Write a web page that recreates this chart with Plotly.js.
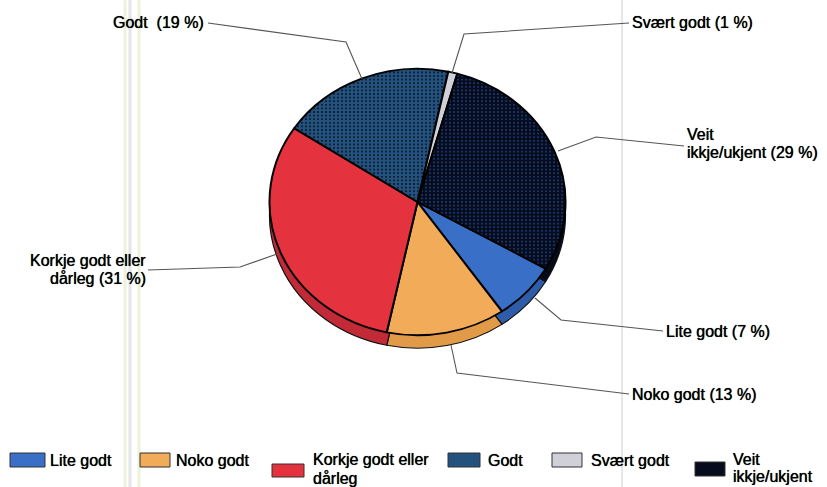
<!DOCTYPE html>
<html><head><meta charset="utf-8">
<script src="https://cdn.plot.ly/plotly-3.0.1.min.js"></script>
<style>html,body{margin:0;padding:0;background:#fff}#c{width:827px;height:487px}</style>
</head><body><div id="c"></div>
<script>
const W = 827, H = 487;
const categories = ['Lite godt','Noko godt','Korkje godt eller dårleg','Godt','Svært godt','Veit ikkje/ukjent'];
const values = [7,13,31,19,1,29];
const colors = ['#3a6fc8','#f2ab58','#e5323f','#23527f','#cfd0d8','#060c1e'];
const sideColors = ['#2f5ca8','#e09a48','#c22a38','#173b62','#a8a8b0','#050a18'];
const dotColors = ['#3a6fc8','#f2ab58','#e5323f','#07101f','#cfd0d8','#1d3f78'];
const dotShapes = ['','','','.','','.'];
// [text, x, y, anchor] – one entry per text line
const labelLines = [
 ['Lite godt (7 %)',665,331,'left'],
 ['Noko godt (13 %)',631,394,'left'],
 ['Korkje godt eller',147,260,'right'],
 ['dårleg (31 %)',147,278,'right'],
 ['Godt  (19 %)',205,23,'right'],
 ['Svært godt (1 %)',631,23,'left'],
 ['Veit',686,135,'left'],
 ['ikkje/ukjent (29 %)',686,153,'left']
];
const leaders = [
 [[535,298],[561,320],[663,331]],
 [[451,345],[457,373],[629,394]],
 [[148,270],[240,267],[277,254]],
 [[208,23],[346,42],[362,79]],
 [[629,23],[464,34],[452,73]],
 [[558,151],[596,137],[684,146]]
];
const legendLines = [
 ['Lite godt',49,460],['Noko godt',175,460],
 ['Korkje godt eller',312,459],['dårleg',312,478],
 ['Godt',487,460],['Svært godt',590,460],
 ['Veit',732,459],['ikkje/ukjent',732,476]
];
const legendSwatch = [[10,453,45,467],[140,453,170,467],[272,464,304,477],[448,453,480,467],[552,453,582,467],[695,462,725,476]];
const bgLines = [[125,'#eef2dc',3],[130,'#e4e4ea',3],[139,'#eef2dc',3],[622,'#e6e6e6',2]];

const px = x => x / W, py = y => 1 - y / H;
const cx = 417.5, cy = 202, r = 148, depth = 13, squash = 0.9;
const dom = off => ({x:[px(cx - r), px(cx + r)], y:[py(cy + off + r), py(cy + off - r)]});
const base = {type:'pie', labels:categories, values:values, sort:false, direction:'clockwise',
  rotation:120, textinfo:'none', hoverinfo:'label+percent', showlegend:false};
const font = {family:'Liberation Sans, Arial, sans-serif', size:16, color:'#000', shadow:'0 0 0.7px #000'};

const data = [
 Object.assign({}, base, {domain:dom(depth), marker:{colors:sideColors, line:{color:'#111', width:1.2}}}),
 Object.assign({}, base, {domain:dom(0), marker:{colors:colors, line:{color:'#000', width:2},
   pattern:{shape:dotShapes, fgcolor:dotColors, bgcolor:colors, size:4, solidity:0.2}}})
];
const shapes = [];
bgLines.forEach(b => shapes.push({type:'line', layer:'below', xref:'paper', yref:'paper',
  x0:px(b[0]), x1:px(b[0]), y0:0, y1:1, line:{color:b[1], width:b[2]}}));
leaders.forEach(l => shapes.push({type:'path', xref:'paper', yref:'paper', layer:'above',
  path:'M' + l.map(p => px(p[0]) + ',' + py(p[1])).join('L'), line:{color:'#555', width:1.1}}));
legendSwatch.forEach((s,i) => shapes.push({type:'rect', xref:'paper', yref:'paper',
  x0:px(s[0]), x1:px(s[2]), y0:py(s[3]), y1:py(s[1]), fillcolor:colors[i], line:{color:'#333', width:1}}));
const annotations = [];
labelLines.forEach(l => annotations.push({text:l[0], xref:'paper', yref:'paper', showarrow:false,
  x:px(l[1]), y:py(l[2]), xanchor:l[3], yanchor:'middle', align:l[3], font:font, borderpad:0}));
legendLines.forEach(l => annotations.push({text:l[0], xref:'paper', yref:'paper', showarrow:false,
  x:px(l[1]), y:py(l[2]), xanchor:'left', yanchor:'middle', align:'left', font:font, borderpad:0}));

Plotly.newPlot('c', data, {width:W, height:H, margin:{l:0,r:0,t:0,b:0}, paper_bgcolor:'#fff',
  showlegend:false, shapes:shapes, annotations:annotations}, {displayModeBar:false, staticPlot:true}).then(gd => {
  // the reference pie is a tilted ellipse: squash both disks vertically around their centres
  gd.querySelectorAll('.pielayer .trace').forEach((g,i) => {
    const c = cy + (i === 0 ? depth : 0);
    g.setAttribute('transform', `translate(0,${c}) scale(1,${squash}) translate(0,${-c})`);
  });
});
</script></body></html>
